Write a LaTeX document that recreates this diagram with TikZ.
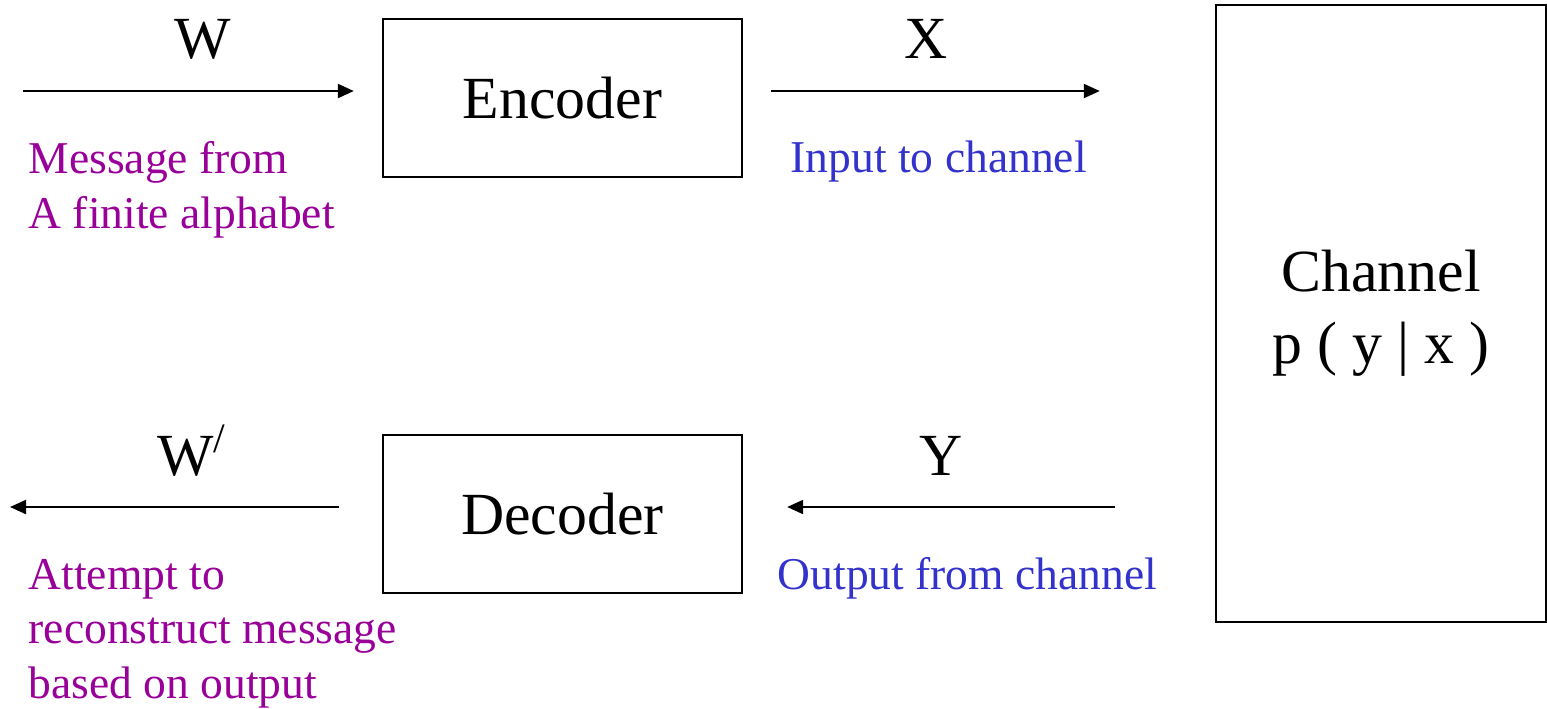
\documentclass[tikz,border=0pt]{standalone}
\usepackage{fontspec}
\setmainfont{Liberation Serif}
\usetikzlibrary{arrows.meta}
\definecolor{notepurple}{RGB}{153,0,153}
\definecolor{noteblue}{RGB}{51,51,204}

\begin{document}
\begin{tikzpicture}[x=0.01cm, y=-0.01cm,
    blockbox/.style={draw, line width=0.6pt, minimum width=3.59cm, minimum height=1.58cm, inner sep=0pt, font=\fontsize{17}{20.5}\selectfont},
    sigline/.style={line width=0.6pt, -{Triangle[length=0.16cm, width=0.14cm]}},
    siglabel/.style={anchor=base, inner sep=0pt, font=\fontsize{17}{20.5}\selectfont},
    note/.style={anchor=base west, align=left, inner sep=0pt, font=\fontsize{12.95}{15.4}\selectfont}]
    \useasboundingbox (0,0) rectangle (1547,708);
    \node[blockbox] (enc) at (562.5,98) {Encoder};
    \node[blockbox] (dec) at (562.5,514) {Decoder};
    \node[blockbox, minimum width=3.30cm, minimum height=6.17cm, align=center] (chan) at (1381,313.5) {Channel\\p ( y | x )};
    % Free ends of the signal lines.
        \coordinate (msgin) at (23,91);
        \coordinate (msgout) at (10,507);
    \draw[sigline, shorten >=0.28cm] (msgin) -- (msgin -| enc.west);
    \draw[sigline, shorten <=0.28cm, shorten >=1.15cm] (msgin -| enc.east) -- (msgin -| chan.west);
    \draw[sigline, shorten <=1.00cm, shorten >=0.44cm] (msgout -| chan.west) -- (msgout -| dec.east);
    \draw[sigline, shorten <=0.43cm] (msgout -| dec.west) -- (msgout);
    % Below nodes are the labels (base of the last line for the notes).
        \node[siglabel] (w) at (203,58) {W};
        \node[siglabel] (x) at (926,58) {X};
        \node[siglabel] (y) at (941,475) {Y};
        \node[siglabel] (wrec) at (192,475) {W\textsuperscript{/}};
        \node[note, text=notepurple] (msgnote) at (28,228) {Message from\\A finite alphabet};
        \node[note, text=noteblue] (innote) at (790,172) {Input to channel};
        \node[note, text=notepurple] (recnote) at (28,698) {Attempt to\\reconstruct message\\based on output};
        \node[note, text=noteblue] (outnote) at (777,589) {Output from channel};
\end{tikzpicture}
\end{document}
